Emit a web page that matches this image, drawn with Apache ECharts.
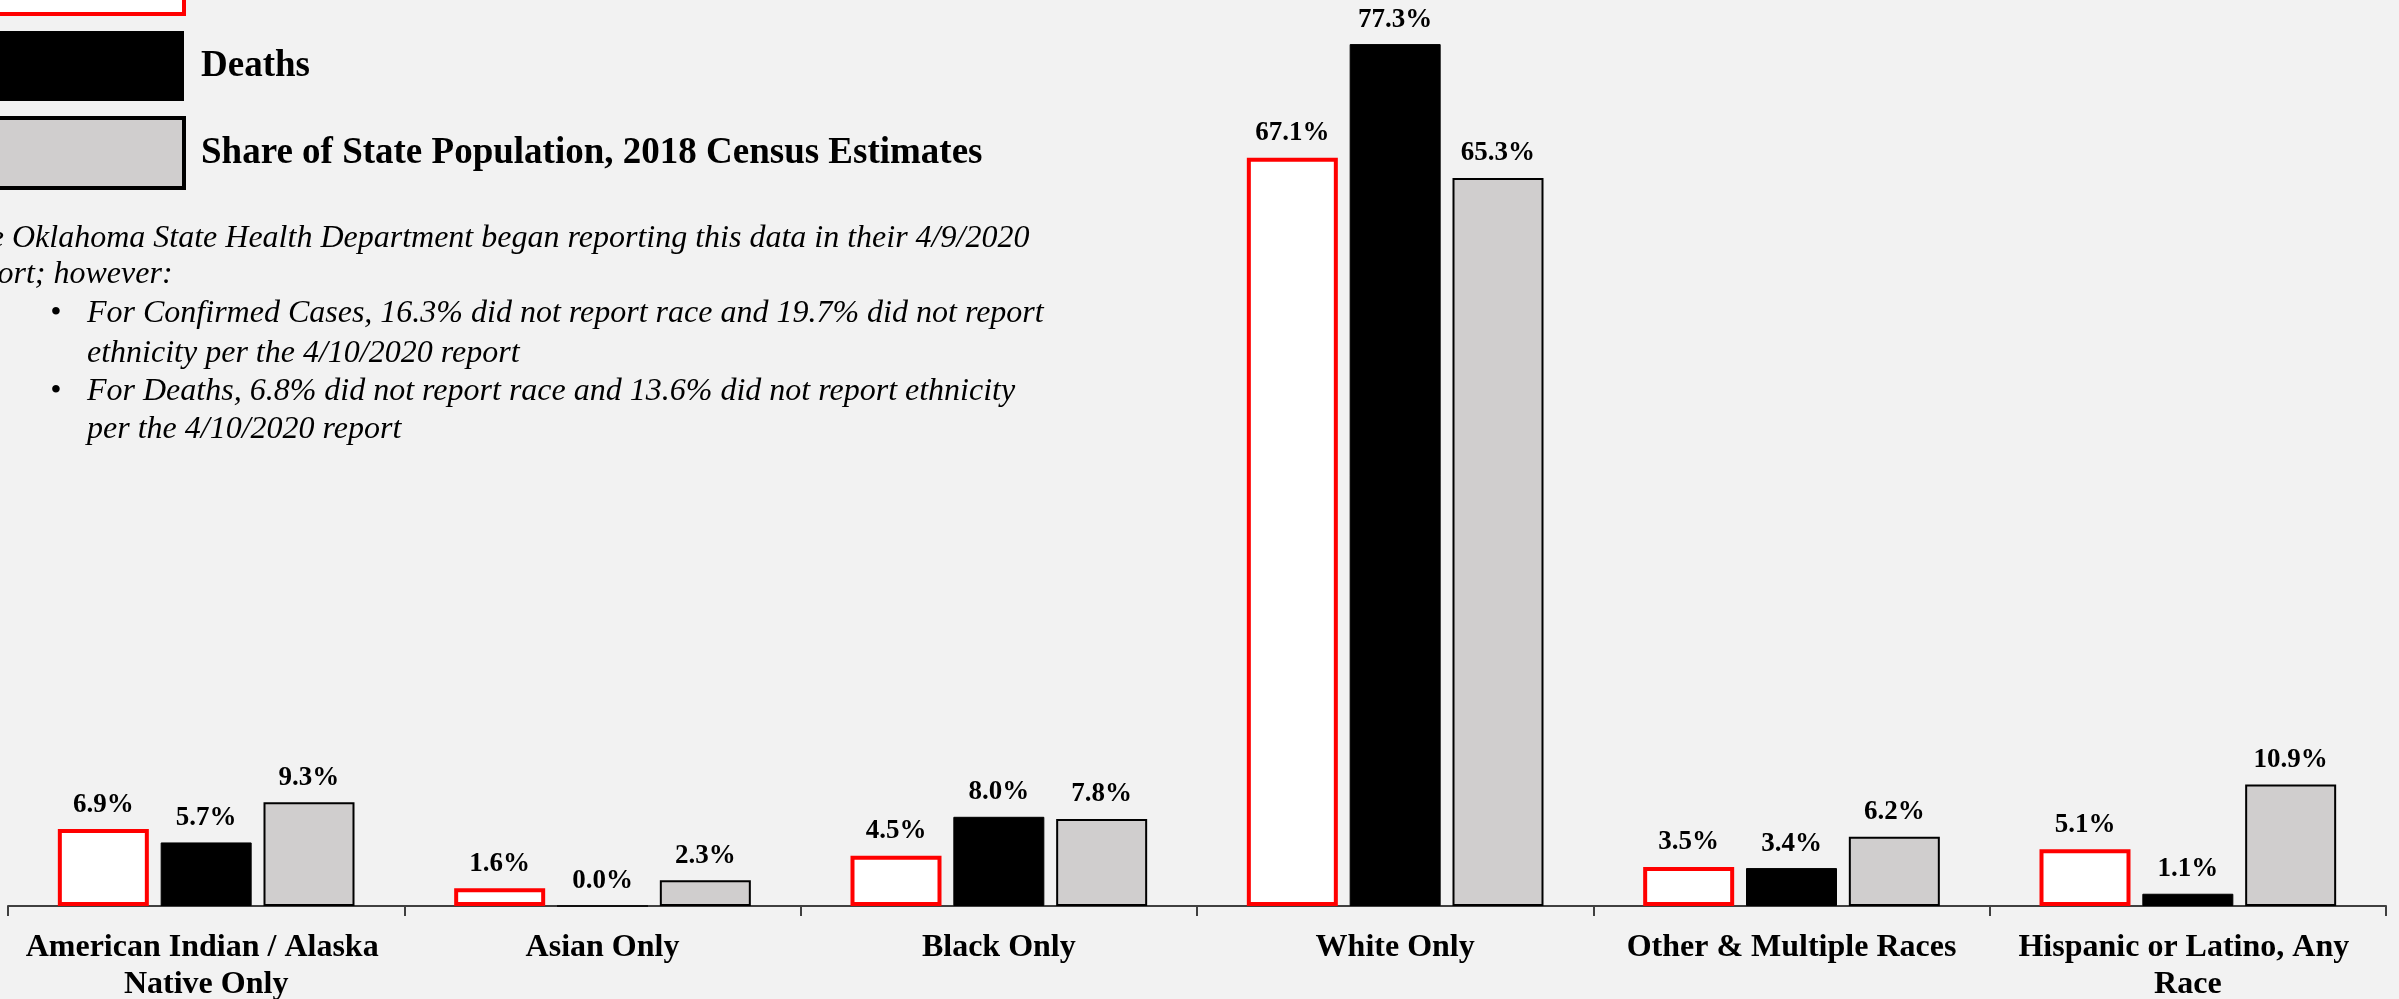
<!DOCTYPE html>
<html>
<head>
<meta charset="utf-8">
<script src="https://cdn.jsdelivr.net/npm/echarts@6/dist/echarts.min.js"></script>
<style>
html,body{margin:0;padding:0;background:#F2F2F2;}
#chart{width:2399px;height:999px;}
</style>
</head>
<body>
<div id="chart"></div>
<script>
const categories = ["American Indian / Alaska Native Only", "Asian Only", "Black Only", "White Only", "Other & Multiple Races", "Hispanic or Latino, Any Race"];
const seriesNames = ["Confirmed Cases", "Deaths", "Share of State Population, 2018 Census Estimates"];
const confirmedCases = [6.9, 1.6, 4.5, 67.1, 3.5, 5.1];
const deaths = [5.7, 0.0, 8.0, 77.3, 3.4, 1.1];
const statePopulationShare = [9.3, 2.3, 7.8, 65.3, 6.2, 10.9];
const noteLines = [
  "The Oklahoma State Health Department began reporting this data in their 4/9/2020",
  "report; however:"
];
const bulletLines = [
  ["For Confirmed Cases, 16.3% did not report race and 19.7% did not report", "ethnicity per the 4/10/2020 report"],
  ["For Deaths, 6.8% did not report race and 13.6% did not report ethnicity", "per the 4/10/2020 report"]
];

const SERIF = '"Liberation Serif", "Times New Roman", serif';
const chart = echarts.init(document.getElementById('chart'), null, {renderer: 'canvas'});

const labelCfg = {
  show: true, position: 'top', distance: 11,
  fontFamily: SERIF, fontWeight: 'bold', fontSize: 27, color: '#000',
  formatter: p => p.value.toFixed(1) + '%'
};

const graphics = [];
const NOTE_SIZE = 32;
const noteFont = 'italic ' + NOTE_SIZE + 'px ' + SERIF;
const baselines = [250, 286, 325, 365, 403, 441];
const mid = b => b - Math.round(NOTE_SIZE * 0.34);
const txt = (t, x, b) => ({type: 'text', x: x, y: mid(b), silent: true,
  style: {text: t, font: noteFont, fill: '#000', verticalAlign: 'middle', align: 'left'}});
noteLines.forEach((t, i) => graphics.push(txt(t, -44, baselines[i])));
bulletLines.forEach((pair, b) => {
  graphics.push(txt('\u2022', 50, baselines[2 + 2 * b]));
  pair.forEach((t, j) => graphics.push(txt(t, 87, baselines[2 + 2 * b + j])));
});

chart.setOption({
  backgroundColor: '#F2F2F2',
  animation: false,
  legend: {
    orient: 'vertical', left: -18, top: -58, padding: 0,
    itemWidth: 200, itemHeight: 70, itemGap: 15, selectedMode: false,
    icon: 'rect',
    textStyle: {fontFamily: SERIF, fontWeight: 'bold', fontSize: 37, color: '#000', padding: [6, 0, 0, 12]},
    data: [
      {name: seriesNames[0], itemStyle: {color: '#FFFFFF', borderColor: '#FF0000', borderWidth: 4}},
      {name: seriesNames[1], itemStyle: {color: '#000000', borderColor: '#000000', borderWidth: 0}},
      {name: seriesNames[2], itemStyle: {color: '#D0CECE', borderColor: '#000000', borderWidth: 4}}
    ]
  },
  grid: {left: 8, right: 13, top: 14, bottom: 93, containLabel: false, outerBoundsMode: 'none'},
  xAxis: {
    type: 'category', data: categories,
    axisLine: {lineStyle: {color: '#404040', width: 2}},
    axisTick: {show: true, length: 10, alignWithLabel: false, lineStyle: {color: '#404040', width: 2}},
    axisLabel: {
      interval: 0, margin: 23, width: 385, overflow: 'break',
      fontFamily: SERIF, fontWeight: 'bold', fontSize: 32, lineHeight: 37, color: '#000'
    }
  },
  yAxis: {type: 'value', min: 0, max: 80, show: false, splitLine: {show: false}},
  series: [
    {name: seriesNames[0], type: 'bar', data: confirmedCases, barWidth: 91, barGap: '13%',
     itemStyle: {color: '#FFFFFF', borderColor: '#FF0000', borderWidth: 4}, label: labelCfg},
    {name: seriesNames[1], type: 'bar', data: deaths, barWidth: 91, barGap: '13%',
     itemStyle: {color: '#000000', borderColor: '#000000', borderWidth: 1}, label: labelCfg},
    {name: seriesNames[2], type: 'bar', data: statePopulationShare, barWidth: 91, barGap: '13%',
     itemStyle: {color: '#D0CECE', borderColor: '#000000', borderWidth: 2}, label: labelCfg}
  ],
  graphic: graphics
});
</script>
</body>
</html>
